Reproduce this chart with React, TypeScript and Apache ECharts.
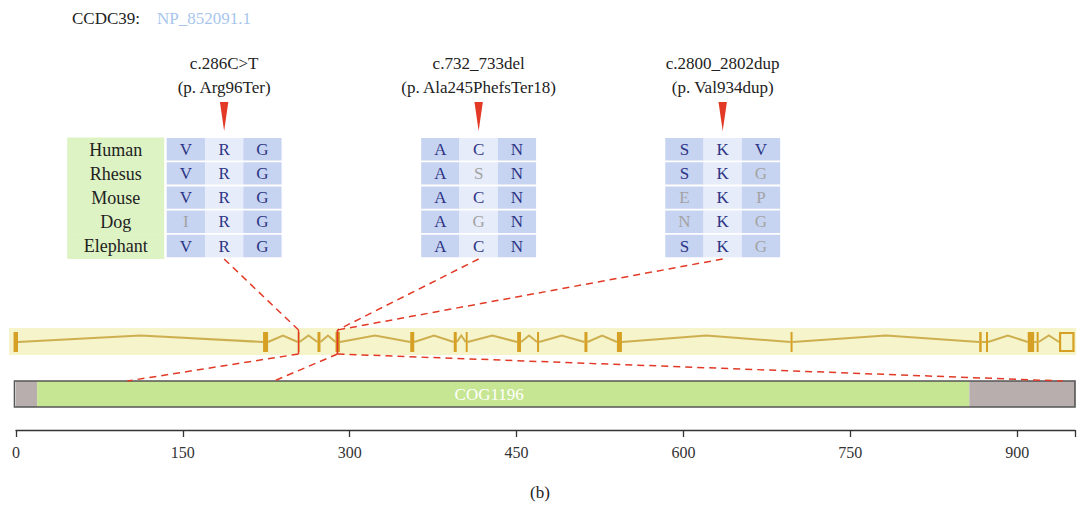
import React, { useEffect, useRef } from "react";
import * as echarts from "echarts";

// ---------------- data ----------------
const axisMax = 952;
const axisInterval = 150;

const geneName = "CCDC39:";
const proteinAccession = "NP_852091.1";
const panelLabel = "(b)";

const species = ["Human", "Rhesus", "Mouse", "Dog", "Elephant"];
const cdnaChanges = ["c.286C>T", "c.732_733del", "c.2800_2802dup"];
const proteinChanges = ["(p. Arg96Ter)", "(p. Ala245PhefsTer18)", "(p. Val934dup)"];
const alignmentBlocks = [
  ["VRG", "VRG", "VRG", "IRG", "VRG"],
  ["ACN", "ASN", "ACN", "AGN", "ACN"],
  ["SKV", "SKG", "EKP", "NKG", "SKG"],
];
const mutationExonPos = [254, 289, 289];
const mutationProteinPos = [100, 232, 941];

const domainNames = ["", "COG1196", ""];
const domainStart = [0, 19, 857];
const domainEnd = [19, 857, 952];

const geneStart = -6.3;
const geneEnd = 953;
const exonStart = [-2.2, 222.1, 253.3, 271.0, 287.2, 354.4, 393.5, 404.3, 450.5, 468.4, 511.0, 540.2, 696.3, 865.9, 872.0, 909.5, 917.5];
const exonEnd = [1.8, 226.6, 254.8, 273.7, 291.2, 358.0, 396.2, 406.0, 454.0, 470.2, 513.7, 544.7, 698.1, 868.1, 873.8, 915.3, 919.3];
const utrStart = 937.7;
const utrEnd = 951.5;

// ---------------- layout / style ----------------
const L = {
  width: 1078,
  height: 507,
  gridLeft: 16,
  gridWidth: 1061,
  axisY: 430,
  protTop: 381,
  protH: 26,
  domainLabelDx: -14,
  stripTop: 328,
  stripH: 27,
  exonTop: 332,
  exonH: 20,
  intronY: 342,
  intronRise: 6.5,
  alignTop: 137.5,
  rowH: 24.2,
  colW: 38.3,
  alignAnchors: [187.1, 415.9, 635.3],
  speciesBoxW: 97,
  speciesGap: 2.5,
  mutLine1Y: 63,
  mutLine2Y: 87,
  triTop: 102,
  triBottom: 131,
  triHalfW: 4.2,
  connTopY: 259,
  exonConnTop: 330,
  exonConnBottom: 354,
};

const FONT = '"Liberation Serif", "DejaVu Serif", serif';
const C = {
  stripBg: "#f6f4cb",
  exon: "#d5a024",
  intron: "#c9a743",
  protGrey: "#b8aeae",
  protGreen: "#c6e693",
  protBorder: "#555555",
  speciesBg: "#def3c4",
  cellDark: "#c7d4f1",
  cellLight: "#e6ecfa",
  navy: "#2d3585",
  greyLetter: "#a3a3a3",
  red: "#e23a26",
  text: "#222222",
  accession: "#a8c6ec",
};
const domainColors = [C.protGrey, C.protGreen, C.protGrey];

function textEl(text: string, x: number, y: number, fill: string, size: number, align = "center") {
  return {
    type: "text",
    x,
    y,
    style: {
      text,
      fill,
      font: `${size}px ${FONT}`,
      fontSize: size,
      fontFamily: FONT,
      align,
      textAlign: align,
      verticalAlign: "middle",
      textVerticalAlign: "middle",
    },
  };
}

export default function App() {
  const ref = useRef<HTMLDivElement>(null);

  useEffect(() => {
    if (!ref.current) return;
    const chart = echarts.init(ref.current, undefined, { renderer: "svg" });
    const X = (api: any, v: number) => api.coord([v, 0])[0];

    // alignment cells
    const cells: number[][] = [];
    alignmentBlocks.forEach((block, b) =>
      block.forEach((row, r) => row.split("").forEach((_, c) => cells.push([b, r, c])))
    );

    // introns between consecutive exons (incl. the final UTR box)
    const allStart = [...exonStart, utrStart];
    const allEnd = [...exonEnd, utrEnd];
    const introns: number[][] = [];
    for (let i = 0; i < allStart.length - 1; i++) introns.push([allEnd[i], allStart[i + 1]]);

    const option: any = {
      animation: false,
      grid: { left: L.gridLeft, top: 0, width: L.gridWidth, height: L.axisY },
      xAxis: {
        type: "value",
        min: 0,
        max: axisMax,
        interval: axisInterval,
        axisLine: { show: true, lineStyle: { color: "#333", width: 1.3 } },
        axisTick: { show: true, length: 7, lineStyle: { color: "#333", width: 1.3 } },
        axisLabel: {
          margin: 14,
          color: "#333",
          fontFamily: FONT,
          fontSize: 16,
          formatter: (v: number) => (v % axisInterval === 0 ? String(v) : ""),
        },
        splitLine: { show: false },
      },
      yAxis: { type: "value", min: 0, max: 1, show: false },
      graphic: [
        textEl(geneName, 72, 18, C.text, 17, "left"),
        textEl(proteinAccession, 157, 18, C.accession, 17, "left"),
        textEl(panelLabel, 540, 492, C.text, 17),
      ],
      series: [
        // gene strip background
        {
          type: "custom",
          silent: true,
          data: [[geneStart, geneEnd]],
          renderItem: (p: any, api: any) => {
            const x0 = X(api, api.value(0));
            const x1 = X(api, api.value(1));
            return {
              type: "rect",
              shape: { x: x0, y: L.stripTop, width: x1 - x0, height: L.stripH },
              style: { fill: C.stripBg },
            };
          },
        },
        // introns
        {
          type: "custom",
          silent: true,
          data: introns,
          renderItem: (p: any, api: any) => {
            const x0 = X(api, api.value(0));
            const x1 = X(api, api.value(1));
            const pts =
              x1 - x0 < 6
                ? [[x0, L.intronY], [x1, L.intronY]]
                : [[x0, L.intronY], [(x0 + x1) / 2, L.intronY - L.intronRise], [x1, L.intronY]];
            return {
              type: "polyline",
              shape: { points: pts },
              style: { stroke: C.intron, lineWidth: 2, fill: "none", opacity: 0.9 },
            };
          },
        },
        // exons
        {
          type: "custom",
          silent: true,
          data: exonStart.map((s, i) => [s, exonEnd[i]]),
          renderItem: (p: any, api: any) => {
            const x0 = X(api, api.value(0));
            const x1 = X(api, api.value(1));
            return {
              type: "rect",
              shape: { x: x0, y: L.exonTop, width: Math.max(1.8, x1 - x0), height: L.exonH },
              style: { fill: C.exon },
            };
          },
        },
        // UTR box
        {
          type: "custom",
          silent: true,
          data: [[utrStart, utrEnd]],
          renderItem: (p: any, api: any) => {
            const x0 = X(api, api.value(0));
            const x1 = X(api, api.value(1));
            return {
              type: "rect",
              shape: { x: x0 + 1, y: L.exonTop + 1, width: x1 - x0 - 2, height: L.exonH - 2 },
              style: { fill: C.stripBg, stroke: C.exon, lineWidth: 2.2 },
            };
          },
        },
        // protein domains
        {
          type: "custom",
          silent: true,
          data: domainStart.map((s, i) => [s, domainEnd[i]]),
          renderItem: (p: any, api: any) => {
            const i = p.dataIndex;
            const x0 = X(api, api.value(0));
            const x1 = X(api, api.value(1));
            const children: any[] = [
              {
                type: "rect",
                shape: { x: x0, y: L.protTop, width: x1 - x0, height: L.protH },
                style: { fill: domainColors[i] },
              },
            ];
            if (domainNames[i])
              children.push(
                textEl(domainNames[i], (x0 + x1) / 2 + L.domainLabelDx, L.protTop + L.protH / 2 + 0.5, "#ffffff", 17)
              );
            return { type: "group", children };
          },
        },
        // protein outline
        {
          type: "custom",
          silent: true,
          data: [[domainStart[0], domainEnd[domainEnd.length - 1]]],
          renderItem: (p: any, api: any) => {
            const x0 = X(api, api.value(0));
            const x1 = X(api, api.value(1));
            return {
              type: "rect",
              shape: { x: x0 - 1.5, y: L.protTop, width: x1 - x0 + 1.5, height: L.protH },
              style: { fill: "none", stroke: C.protBorder, lineWidth: 1.6 },
            };
          },
        },
        // species box
        {
          type: "custom",
          silent: true,
          data: species.map((_, i) => [L.alignAnchors[0], i]),
          renderItem: (p: any, api: any) => {
            const r = p.dataIndex;
            const right = X(api, api.value(0)) - 1.5 * L.colW - L.speciesGap;
            const y0 = L.alignTop + r * L.rowH;
            return {
              type: "group",
              children: [
                {
                  type: "rect",
                  shape: { x: right - L.speciesBoxW, y: y0, width: L.speciesBoxW, height: L.rowH + 0.5 },
                  style: { fill: C.speciesBg },
                },
                textEl(species[r], right - L.speciesBoxW / 2, y0 + L.rowH / 2, C.text, 18),
              ],
            };
          },
        },
        // alignment cells
        {
          type: "custom",
          silent: true,
          data: cells,
          renderItem: (p: any, api: any) => {
            const b = api.value(0);
            const r = api.value(1);
            const c = api.value(2);
            const ch = alignmentBlocks[b][r][c];
            const conserved = ch === alignmentBlocks[b][0][c];
            const cx = X(api, L.alignAnchors[b]) + (c - 1) * L.colW;
            const y0 = L.alignTop + r * L.rowH;
            return {
              type: "group",
              children: [
                {
                  type: "rect",
                  shape: { x: cx - L.colW / 2, y: y0 + 0.5, width: L.colW, height: L.rowH - 1.8 },
                  style: { fill: c === 1 ? C.cellLight : C.cellDark },
                },
                textEl(ch, cx, y0 + L.rowH / 2 - 0.3, conserved ? C.navy : C.greyLetter, 17),
              ],
            };
          },
        },
        // mutations: labels, arrowheads, connectors
        {
          type: "custom",
          silent: true,
          data: mutationProteinPos.map((v, i) => [v, i]),
          renderItem: (p: any, api: any) => {
            const i = p.dataIndex;
            const ax = X(api, L.alignAnchors[i]);
            const gx = X(api, mutationExonPos[i]);
            const px = X(api, api.value(0));
            const dash = { stroke: C.red, lineWidth: 1.5, fill: "none", lineDash: [7, 5] };
            return {
              type: "group",
              children: [
                textEl(cdnaChanges[i], ax, L.mutLine1Y, C.text, 17),
                textEl(proteinChanges[i], ax, L.mutLine2Y, C.text, 17),
                {
                  type: "polygon",
                  shape: {
                    points: [
                      [ax - L.triHalfW, L.triTop],
                      [ax + L.triHalfW, L.triTop],
                      [ax, L.triBottom],
                    ],
                  },
                  style: { fill: C.red },
                },
                { type: "polyline", shape: { points: [[ax, L.connTopY], [gx, L.exonConnTop]] }, style: dash },
                {
                  type: "polyline",
                  shape: { points: [[gx, L.exonConnTop], [gx, L.exonConnBottom]] },
                  style: { stroke: C.red, lineWidth: 1.4, fill: "none" },
                },
                { type: "polyline", shape: { points: [[gx, L.exonConnBottom], [px, L.protTop]] }, style: dash },
              ],
            };
          },
        },
      ],
    };
    chart.setOption(option);
    return () => chart.dispose();
  }, []);

  return (
    <div
      ref={ref}
      style={{ position: "absolute", left: 0, top: 0, width: L.width, height: L.height, background: "#fff" }}
    />
  );
}
